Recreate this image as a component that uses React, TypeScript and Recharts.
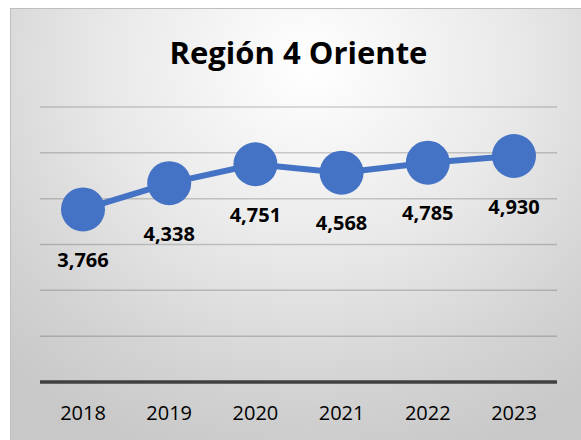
import { CartesianGrid, LabelList, Line, LineChart, XAxis, YAxis } from "recharts";

const years = ["2018", "2019", "2020", "2021", "2022", "2023"];
const totals = [3766, 4338, 4751, 4568, 4785, 4930];
const yTicks = [0, 1000, 2000, 3000, 4000, 5000, 6000];

const data = years.map((year, i) => ({ year, total: totals[i] }));

const font = "'Open Sans', 'Noto Sans', sans-serif";

function ValueLabel(props: any) {
  const { x, y, value } = props;
  return (
    <text
      x={x}
      y={y + 50}
      textAnchor="middle"
      dominantBaseline="central"
      fontFamily={font}
      fontWeight={700}
      fontSize={20}
      fill="#000"
    >
      {Number(value).toLocaleString("en-US")}
    </text>
  );
}

export default function App() {
  return (
    <div style={{ position: "fixed", left: 0, top: 0, width: 581, height: 440, background: "#fff", overflow: "hidden" }}>
      <div
        style={{
          position: "absolute",
          left: 10,
          top: 8,
          width: 600,
          height: 460,
          border: "1px solid #bfbfbf",
          background: "radial-gradient(ellipse 75% 90% at 50% 12%, #ffffff 0%, #e9e9e9 45%, #d2d2d2 80%, #c8c8c8 100%)",
        }}
      />
      <div
        style={{
          position: "absolute",
          left: 40,
          width: 517,
          top: 37,
          textAlign: "center",
          fontFamily: font,
          fontWeight: 700,
          fontSize: 31,
          lineHeight: "31px",
          color: "#000",
        }}
      >
        Región 4 Oriente
      </div>
      <div style={{ position: "absolute", left: 0, top: 0 }}>
        <LineChart width={581} height={440} data={data} margin={{ top: 107, right: 24, bottom: 8, left: 40 }}>
          <CartesianGrid vertical={false} stroke="#000" strokeOpacity={0.18} strokeWidth={1.5} />
          <YAxis hide domain={[0, 6000]} ticks={yTicks} />
          <XAxis
            dataKey="year"
            height={50}
            padding={{ left: 43, right: 43 }}
            axisLine={{ stroke: "#404040", strokeWidth: 3.5 }}
            tickLine={false}
            tickMargin={18}
            tick={{ fill: "#000", fontSize: 20, fontFamily: font }}
          />
          <Line
            dataKey="total"
            stroke="#4472C4"
            strokeWidth={6}
            dot={{ r: 22, fill: "#4472C4", stroke: "none" }}
            isAnimationActive={false}
          >
            <LabelList dataKey="total" content={ValueLabel} />
          </Line>
        </LineChart>
      </div>
    </div>
  );
}
